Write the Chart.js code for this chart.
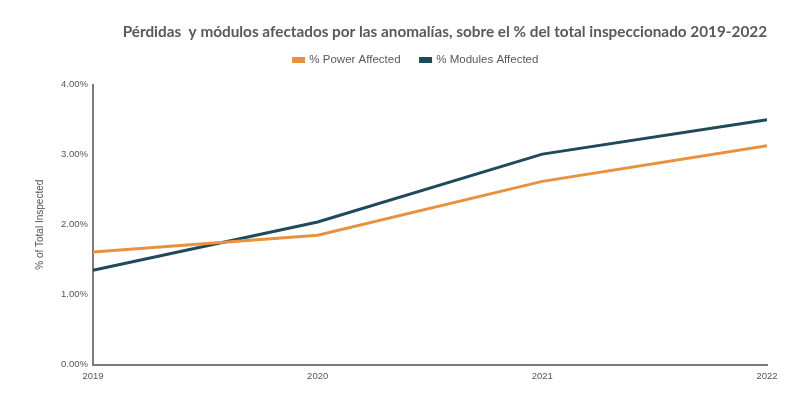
<!DOCTYPE html>
<html>
<head>
<meta charset="utf-8">
<script src="https://cdn.jsdelivr.net/npm/chart.js@4"></script>
<style>
  html, body { margin: 0; padding: 0; background: #fff; }
  #wrap { width: 785px; height: 393px; }
</style>
</head>
<body>
<div id="wrap"><canvas id="lossChart"></canvas></div>
<script>
var years = ['2019', '2020', '2021', '2022'];
var powerAffected = [1.61, 1.85, 2.62, 3.13];
var modulesAffected = [1.35, 2.04, 3.01, 3.50];
var yTicks = [0, 1, 2, 3, 4];

var tickFont = { family: 'Liberation Sans', size: 9.5 };

// extra room under the legend, and nudge it a bit left like the original
var legendTweak = {
  id: 'legendTweak',
  beforeLayout: function(chart) {
    var lg = chart.legend;
    if (lg && !lg._wrapped) {
      var fit = lg.fit;
      lg.fit = function() {
        fit.call(this);
        this.height += 9;
      };
      lg._wrapped = true;
    }
  },
  afterLayout: function(chart) {
    var lg = chart.legend;
    if (lg) {
      lg.left -= 14;
      lg.right -= 14;
    }
  }
};

var ctx = document.getElementById('lossChart').getContext('2d');
var chart = new Chart(ctx, {
  type: 'line',
  data: {
    labels: years,
    datasets: [{
      label: '% Power Affected',
      data: powerAffected,
      borderColor: '#E8913E',
      backgroundColor: '#E8913E',
      borderWidth: 3,
      pointRadius: 0,
      tension: 0
    }, {
      label: '% Modules Affected',
      data: modulesAffected,
      borderColor: '#1E4A5C',
      backgroundColor: '#1E4A5C',
      borderWidth: 3,
      pointRadius: 0,
      tension: 0
    }]
  },
  plugins: [legendTweak],
  options: {
    responsive: true,
    maintainAspectRatio: false,
    animation: false,
    layout: { padding: { left: 0, right: 18, top: 23, bottom: 5 } },
    plugins: {
      title: {
        display: true,
        text: 'Pérdidas  y módulos afectados por las anomalías, sobre el % del total inspeccionado 2019-2022',
        align: 'end',
        color: '#595959',
        font: { family: 'Lato', size: 15.3, weight: 'bold' },
        padding: { top: 0, bottom: -7 }
      },
      legend: {
        position: 'top',
        fullSize: false,
        labels: {
          color: '#595959',
          font: { family: 'Liberation Sans', size: 11.5 },
          boxWidth: 10,
          boxHeight: 3,
          padding: 20
        }
      },
      tooltip: { enabled: false }
    },
    scales: {
      x: {
        grid: { display: false, drawTicks: false },
        border: { display: true, color: '#7a7a7a', width: 2 },
        ticks: { color: '#555', font: tickFont, padding: 6, maxRotation: 0 }
      },
      y: {
        min: 0,
        max: 4,
        grid: { display: false, drawTicks: false },
        border: { display: true, color: '#7a7a7a', width: 2 },
        afterBuildTicks: function(scale) {
          scale.ticks = yTicks.map(function(v) { return { value: v }; });
        },
        afterFit: function(scale) { scale.width = 93; },
        ticks: {
          color: '#555',
          font: tickFont,
          padding: 5,
          callback: function(v) { return v.toFixed(2) + '%'; }
        },
        title: {
          display: true,
          text: '% of Total Inspected',
          color: '#555',
          font: { family: 'Liberation Sans', size: 10 },
          padding: { top: 34, bottom: 0 }
        }
      }
    }
  }
});
</script>
</body>
</html>
